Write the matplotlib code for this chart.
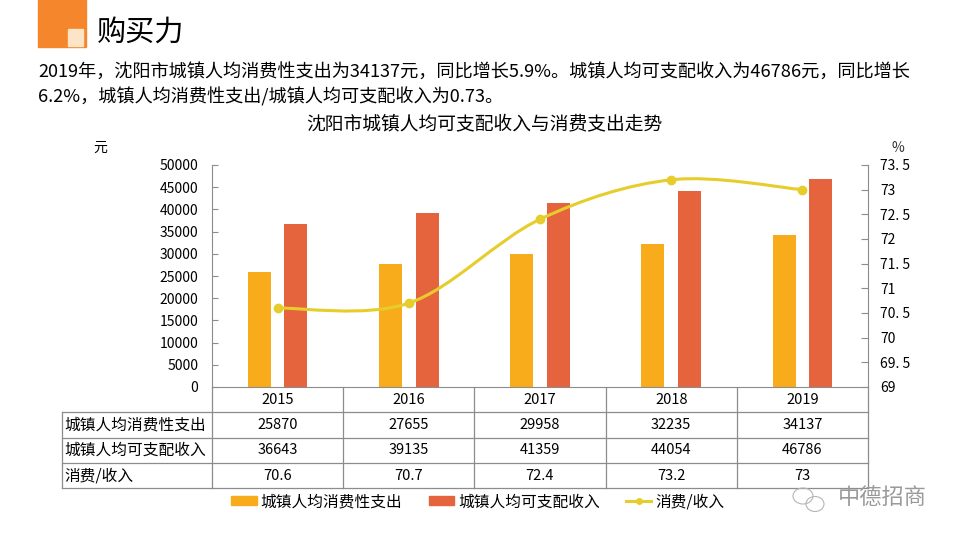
import numpy as np
import matplotlib.pyplot as plt
from matplotlib.path import Path
from matplotlib.patches import PathPatch, Rectangle, Patch, Ellipse
from matplotlib.lines import Line2D
import matplotlib.transforms as mtransforms

plt.rcParams['font.family'] = ['Noto Sans CJK SC', 'DejaVu Sans']

years = ['2015', '2016', '2017', '2018', '2019']
spending = [25870, 27655, 29958, 32235, 34137]
income = [36643, 39135, 41359, 44054, 46786]
ratio = [70.6, 70.7, 72.4, 73.2, 73]
ratio_labels = ['70.6', '70.7', '72.4', '73.2', '73']
row_names = ['城镇人均消费性支出', '城镇人均可支配收入', '消费/收入']

c_orange = '#F9AC1B'
c_red = '#E5643E'
c_yellow = '#E6CD2C'
c_grid = '#8C8C8C'

W, H = 959, 539
def fx(px): return px / W
def fy(py): return 1 - py / H

fig = plt.figure(figsize=(W / 100, H / 100), dpi=100)

# header block
fig.patches.append(Rectangle((fx(38), fy(47)), fx(86) - fx(38), fy(0) - fy(47),
                             transform=fig.transFigure, color='#F5862B', zorder=0))
fig.patches.append(Rectangle((fx(68), fy(46)), fx(83) - fx(68), fy(29) - fy(46),
                             transform=fig.transFigure, color='#FCE4C6', zorder=1))
fig.text(fx(97), fy(33), '购买力', fontsize=21, va='center', ha='left')

fig.text(fx(38), fy(72), '2019年，沈阳市城镇人均消费性支出为34137元，同比增长5.9%。城镇人均可支配收入为46786元，同比增长',
         fontsize=13.1, va='center', ha='left')
fig.text(fx(38), fy(97), '6.2%，城镇人均消费性支出/城镇人均可支配收入为0.73。',
         fontsize=13.1, va='center', ha='left')
fig.text(fx(484), fy(124), '沈阳市城镇人均可支配收入与消费支出走势', fontsize=13.5, va='center', ha='center')
fig.text(fx(100), fy(148), '元', fontsize=10, va='center', ha='center')
fig.text(fx(898), fy(148), '%', fontsize=10, va='center', ha='center', color='#333333')

ax = fig.add_axes([fx(212), fy(387), fx(868) - fx(212), fy(165) - fy(387)])
x = np.arange(len(years))
bw = 0.175
off = 0.14
ax.bar(x - off, spending, bw, color=c_orange, zorder=2)
ax.bar(x + off, income, bw, color=c_red, zorder=2)
ax.set_xlim(-0.5, len(years) - 0.5)
ax.set_ylim(0, 50000)
ax.set_yticks(np.arange(0, 50001, 5000))
ax.set_xticks([])
ax.tick_params(axis='y', direction='in', length=4, color=c_grid, labelsize=10, pad=10)
for s in ['top', 'right']:
    ax.spines[s].set_visible(False)
for s in ['left', 'bottom']:
    ax.spines[s].set_color(c_grid)

ax2 = ax.twinx()
ax2.set_ylim(69, 73.5)
ax2.set_yticks(np.arange(69, 73.51, 0.5))
ax2.set_yticklabels([('%g' % v).replace('.', '. ') for v in np.arange(69, 73.51, 0.5)])
ax2.tick_params(axis='y', direction='in', length=5, color=c_grid, labelsize=10, pad=9)
for s in ['top', 'left', 'bottom']:
    ax2.spines[s].set_visible(False)
ax2.spines['right'].set_color(c_grid)

# smoothed line (catmull-rom style bezier through the points)
pts = np.column_stack([x, ratio]).astype(float)
verts = [tuple(pts[0])]
codes = [Path.MOVETO]
n = len(pts)
for i in range(n - 1):
    p0 = pts[max(i - 1, 0)]
    p1 = pts[i]
    p2 = pts[i + 1]
    p3 = pts[min(i + 2, n - 1)]
    c1 = p1 + (p2 - p0) / 6
    c2 = p2 - (p3 - p1) / 6
    verts += [tuple(c1), tuple(c2), tuple(p2)]
    codes += [Path.CURVE4] * 3
ax2.add_patch(PathPatch(Path(verts, codes), fill=False, edgecolor=c_yellow, lw=2.2, zorder=3))
ax2.plot(x, ratio, 'o', color=c_yellow, markersize=6, zorder=4)

# data table below the chart
tr = mtransforms.blended_transform_factory(ax.transData, ax.transAxes)
rh = 25.3 / 222
left = -0.5 - 150 / 131.2
right = len(years) - 0.5
bottoms = [-rh * k for k in range(1, 5)]
line_kw = dict(color=c_grid, lw=0.9, transform=tr, clip_on=False)
for yb in bottoms:
    ax.add_line(Line2D([left, right], [yb, yb], **line_kw))
ax.add_line(Line2D([left, left], [bottoms[0], bottoms[-1]], **line_kw))
for k in range(len(years) + 1):
    ax.add_line(Line2D([k - 0.5, k - 0.5], [0, bottoms[-1]], **line_kw))
for i, yr in enumerate(years):
    ax.text(i, -rh * 0.5, yr, transform=tr, ha='center', va='center', fontsize=10.5)
rows = [[str(v) for v in spending], [str(v) for v in income], ratio_labels]
for r, (name, vals) in enumerate(zip(row_names, rows)):
    yc = -rh * (r + 1.5)
    ax.text(left + 0.02, yc, name, transform=tr, ha='left', va='center', fontsize=11.3)
    for i, v in enumerate(vals):
        ax.text(i, yc, v, transform=tr, ha='center', va='center', fontsize=10.5)

handles = [Patch(color=c_orange), Patch(color=c_red),
           Line2D([], [], color=c_yellow, lw=2.2, marker='o', markersize=4)]
fig.legend(handles, row_names, loc='center', bbox_to_anchor=(fx(478), fy(502)), ncol=3,
           frameon=False, fontsize=11.3, handlelength=1.6, handleheight=0.5,
           handletextpad=0.25, columnspacing=1.7)

# watermark
fig.patches.append(Ellipse((fx(803), fy(496)), 20 / W, 16 / H, transform=fig.transFigure,
                           fill=False, ec='#B5B5B5', lw=0.8))
fig.patches.append(Ellipse((fx(815), fy(504)), 18 / W, 15 / H, transform=fig.transFigure,
                           fill=False, ec='#B5B5B5', lw=0.8))
fig.text(fx(927), fy(497), '中德招商', fontsize=16, color='#9A9A9A', ha='right', va='center')

fig.savefig('out.png', dpi=100)
